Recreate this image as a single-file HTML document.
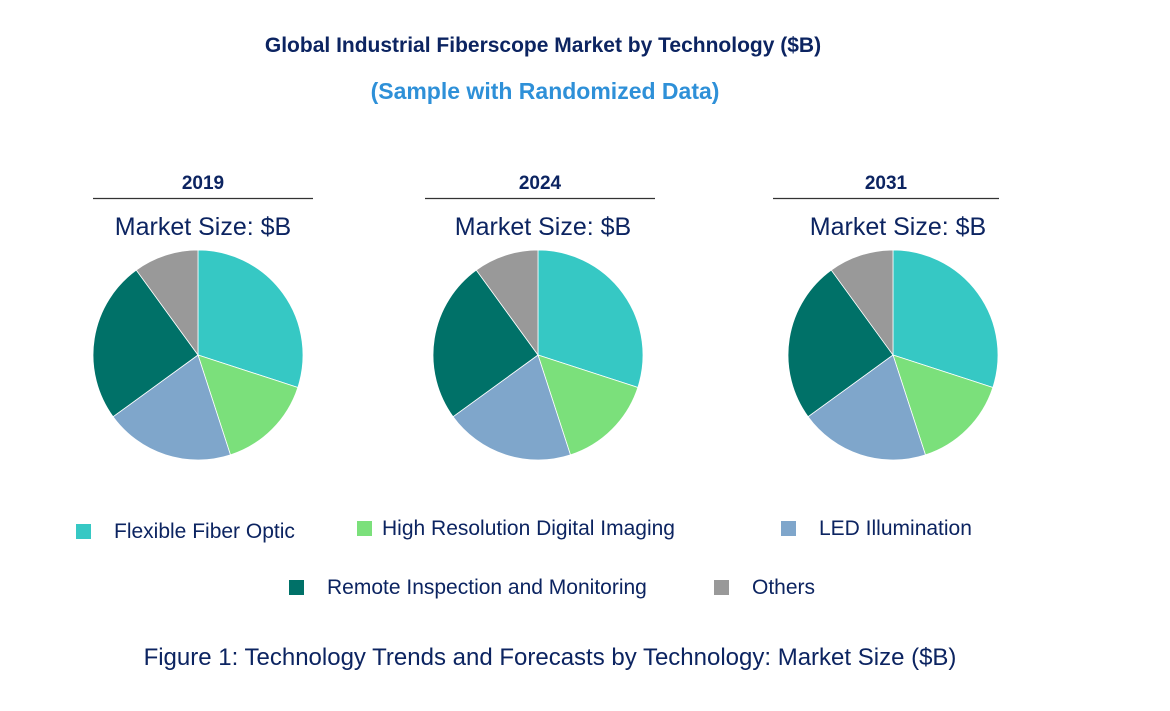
<!DOCTYPE html>
<html><head><meta charset="utf-8"><style>
body{margin:0;width:1170px;height:711px;background:#fff;font-family:"Liberation Sans",sans-serif;overflow:hidden}
svg{display:block}
</style></head><body>
<svg width="1170" height="711">
<text x="543" y="52" text-anchor="middle" font-size="21" font-weight="bold" fill="#0c2461">Global Industrial Fiberscope Market by Technology ($B)</text>
<text x="545" y="99" text-anchor="middle" font-size="23" font-weight="bold" fill="#2e90d8">(Sample with Randomized Data)</text>
<g id="pies"></g>
<g id="legend"></g>
<text x="550" y="665" text-anchor="middle" font-size="24" fill="#0c2461">Figure 1: Technology Trends and Forecasts by Technology: Market Size ($B)</text>
</svg>
<script>
const categories=["Flexible Fiber Optic","High Resolution Digital Imaging","LED Illumination","Remote Inspection and Monitoring","Others"];
const years=["2019","2024","2031"];
const values2019=[30,15,20,25,10];
const values2024=[30,15,20,25,10];
const values2031=[30,15,20,25,10];
const colors=["#36c8c4","#7be07b","#7fa6cb","#007168","#999999"];
const NS="http://www.w3.org/2000/svg";
function mk(t,a,p){const e=document.createElementNS(NS,t);for(const k in a)e.setAttribute(k,a[k]);p.appendChild(e);return e;}
const pies=document.getElementById('pies');
const centers=[198,538,893],lines=[[93,313],[425,655],[773,999]];
const series=[values2019,values2024,values2031];
years.forEach((y,i)=>{
 const cx=centers[i],cy=355,r=105;
 const t=mk('text',{x:(lines[i][0]+lines[i][1])/2,y:189,'text-anchor':'middle','font-size':19,'font-weight':'bold',fill:'#0c2461'},pies);t.textContent=y;
 
 
 const l=mk('line',{x1:lines[i][0],x2:lines[i][1],y1:198.5,y2:198.5,stroke:'#333','stroke-width':1.3},pies);
 
 
 const m=mk('text',{x:cx+5,y:235,'text-anchor':'middle','font-size':25,fill:'#0c2461'},pies);m.textContent='Market Size: $B';
 
 
 const vals=series[i],tot=vals.reduce((a,b)=>a+b,0);let a0=0;
 vals.forEach((v,j)=>{
  const a1=a0+v/tot*2*Math.PI;
  const x0=cx+r*Math.sin(a0),y0=cy-r*Math.cos(a0),x1=cx+r*Math.sin(a1),y1=cy-r*Math.cos(a1);
  const p=mk('path',{d:`M${cx},${cy}L${x0},${y0}A${r},${r} 0 ${a1-a0>Math.PI?1:0} 1 ${x1},${y1}Z`,fill:colors[j],stroke:'#fff','stroke-width':0.8},pies);
  
  
  a0=a1;
 });
});
const leg=document.getElementById('legend');
const legPos=[[76,538],[357,535],[781,535],[289,594],[714,594]];
categories.forEach((c,j)=>{
 const g=mk('g',{},leg);
 
 
 mk('rect',{x:legPos[j][0],y:legPos[j][1]-14,width:15,height:15,fill:colors[j]},g);
 const t=mk('text',{x:legPos[j][0]+(j==1?25:38),y:legPos[j][1],'font-size':21,fill:'#0c2461'},g);t.textContent=c;
});
</script>
</body></html>
